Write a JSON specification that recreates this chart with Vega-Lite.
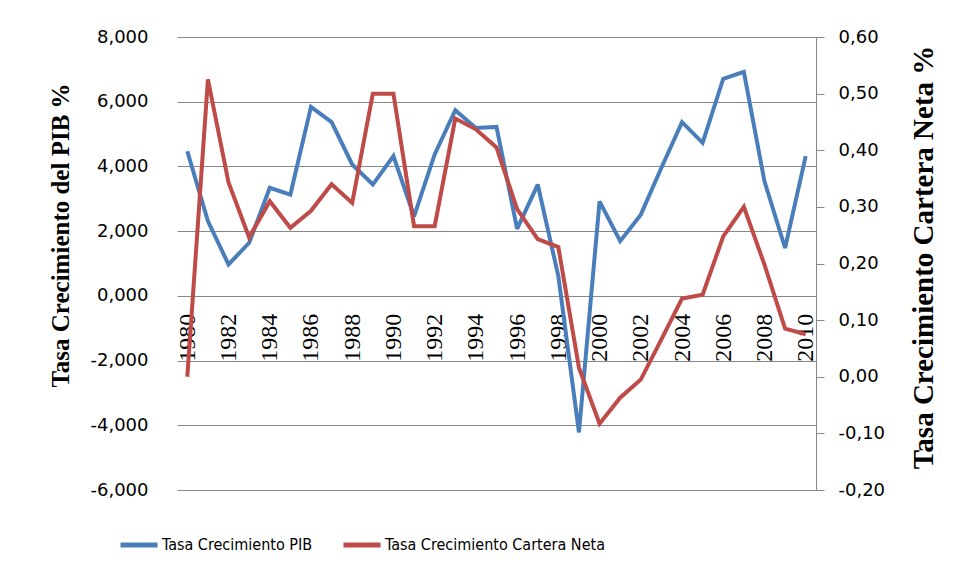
{
  "$schema": "https://vega.github.io/schema/vega-lite/v6.json",
  "width": 639,
  "height": 453,
  "autosize": "none",
  "padding": {"left": 177, "top": 37, "right": 142, "bottom": 91},
  "background": "white",
  "config": {
    "view": {"stroke": null},
    "locale": {"number": {"decimal": ",", "thousands": ".", "grouping": [3], "currency": ["", ""], "minus": "-"}}
  },
  "data": {
    "values": [
      {"year": 1980, "pib": 4.47, "cartera": 0.000},
      {"year": 1981, "pib": 2.31, "cartera": 0.525},
      {"year": 1982, "pib": 0.97, "cartera": 0.343},
      {"year": 1983, "pib": 1.64, "cartera": 0.246},
      {"year": 1984, "pib": 3.34, "cartera": 0.310},
      {"year": 1985, "pib": 3.13, "cartera": 0.263},
      {"year": 1986, "pib": 5.84, "cartera": 0.293},
      {"year": 1987, "pib": 5.37, "cartera": 0.340},
      {"year": 1988, "pib": 4.06, "cartera": 0.307},
      {"year": 1989, "pib": 3.44, "cartera": 0.500},
      {"year": 1990, "pib": 4.32, "cartera": 0.500},
      {"year": 1991, "pib": 2.46, "cartera": 0.266},
      {"year": 1992, "pib": 4.37, "cartera": 0.266},
      {"year": 1993, "pib": 5.74, "cartera": 0.456},
      {"year": 1994, "pib": 5.19, "cartera": 0.437},
      {"year": 1995, "pib": 5.22, "cartera": 0.405},
      {"year": 1996, "pib": 2.07, "cartera": 0.296},
      {"year": 1997, "pib": 3.44, "cartera": 0.243},
      {"year": 1998, "pib": 0.61, "cartera": 0.229},
      {"year": 1999, "pib": -4.22, "cartera": 0.016},
      {"year": 2000, "pib": 2.92, "cartera": -0.083},
      {"year": 2001, "pib": 1.69, "cartera": -0.037},
      {"year": 2002, "pib": 2.51, "cartera": -0.005},
      {"year": 2003, "pib": 3.96, "cartera": 0.066},
      {"year": 2004, "pib": 5.37, "cartera": 0.138},
      {"year": 2005, "pib": 4.73, "cartera": 0.145},
      {"year": 2006, "pib": 6.71, "cartera": 0.248},
      {"year": 2007, "pib": 6.92, "cartera": 0.300},
      {"year": 2008, "pib": 3.54, "cartera": 0.198},
      {"year": 2009, "pib": 1.48, "cartera": 0.085},
      {"year": 2010, "pib": 4.32, "cartera": 0.075}
    ]
  },
  "encoding": {
    "x": {
      "field": "year",
      "type": "quantitative",
      "scale": {"domain": [1979.5, 2010.5], "nice": false, "zero": false},
      "axis": {
        "title": null,
        "orient": "bottom",
        "offset": -193.7,
        "values": [1980, 1982, 1984, 1986, 1988, 1990, 1992, 1994, 1996, 1998, 2000, 2002, 2004, 2006, 2008, 2010],
        "format": "d",
        "labelAngle": -90,
        "labelAlign": "right",
        "labelBaseline": "middle",
        "labelFont": "Liberation Serif",
        "labelFontSize": 24,
        "labelColor": "#000000",
        "labelPadding": 17,
        "ticks": false,
        "tickSize": 0,
        "domain": false,
        "grid": false,
        "labelOverlap": false,
        "labelFlush": false
      }
    },
    "color": {
      "field": "series",
      "type": "nominal",
      "scale": {
        "domain": ["Tasa Crecimiento PIB", "Tasa Crecimiento Cartera Neta"],
        "range": ["#4A7EBB", "#BE4B48"]
      },
      "legend": {
        "title": null,
        "orient": "none",
        "direction": "horizontal",
        "legendX": -59,
        "legendY": 487,
        "symbolType": "stroke",
        "symbolSize": 1369,
        "symbolStrokeWidth": 5,
        "labelFont": "DejaVu Sans Condensed",
        "labelFontSize": 16,
        "labelColor": "#000000",
        "labelOffset": 2,
        "columnPadding": 20,
        "labelLimit": 400
      }
    }
  },
  "layer": [
    {
      "transform": [{"calculate": "'Tasa Crecimiento PIB'", "as": "series"}],
      "mark": {"type": "line", "strokeWidth": 4, "strokeJoin": "miter", "strokeMiterLimit": 3},
      "encoding": {
        "y": {
          "field": "pib",
          "type": "quantitative",
          "scale": {"domain": [-6, 8], "nice": false, "zero": false},
          "axis": {
            "title": "Tasa Crecimiento del PIB %",
            "orient": "left",
            "values": [-6, -4, -2, 0, 2, 4, 6, 8],
            "format": ".3f",
            "labelFont": "DejaVu Sans",
            "labelFontSize": 18,
            "labelColor": "#000000",
            "labelPadding": 29,
            "ticks": false,
            "tickSize": 0,
            "domain": false,
            "grid": true,
            "gridColor": "#888888",
            "gridWidth": 1,
            "titleFont": "Liberation Serif",
            "titleFontWeight": "bold",
            "titleFontSize": 25,
            "titleColor": "#000000",
            "titleAngle": -90,
            "titleAlign": "center",
            "titleBaseline": "middle",
            "titleX": -117,
            "titleY": 198
          }
        }
      }
    },
    {
      "transform": [{"calculate": "'Tasa Crecimiento Cartera Neta'", "as": "series"}],
      "mark": {"type": "line", "strokeWidth": 4, "strokeJoin": "miter", "strokeMiterLimit": 3},
      "encoding": {
        "y": {
          "field": "cartera",
          "type": "quantitative",
          "scale": {"domain": [-0.2, 0.6], "nice": false, "zero": false},
          "axis": {
            "title": "Tasa Crecimiento Cartera Neta %",
            "orient": "right",
            "values": [-0.2, -0.1, 0, 0.1, 0.2, 0.3, 0.4, 0.5, 0.6],
            "format": ".2f",
            "labelFont": "DejaVu Sans",
            "labelFontSize": 18,
            "labelColor": "#000000",
            "labelPadding": 14,
            "ticks": true,
            "tickSize": 8,
            "tickColor": "#888888",
            "domain": true,
            "domainColor": "#888888",
            "grid": false,
            "titleFont": "Liberation Serif",
            "titleFontWeight": "bold",
            "titleFontSize": 29,
            "titleColor": "#000000",
            "titleAngle": -90,
            "titleAlign": "center",
            "titleBaseline": "middle",
            "titleX": 107,
            "titleY": 220
          }
        }
      }
    }
  ],
  "resolve": {"scale": {"y": "independent"}}
}
